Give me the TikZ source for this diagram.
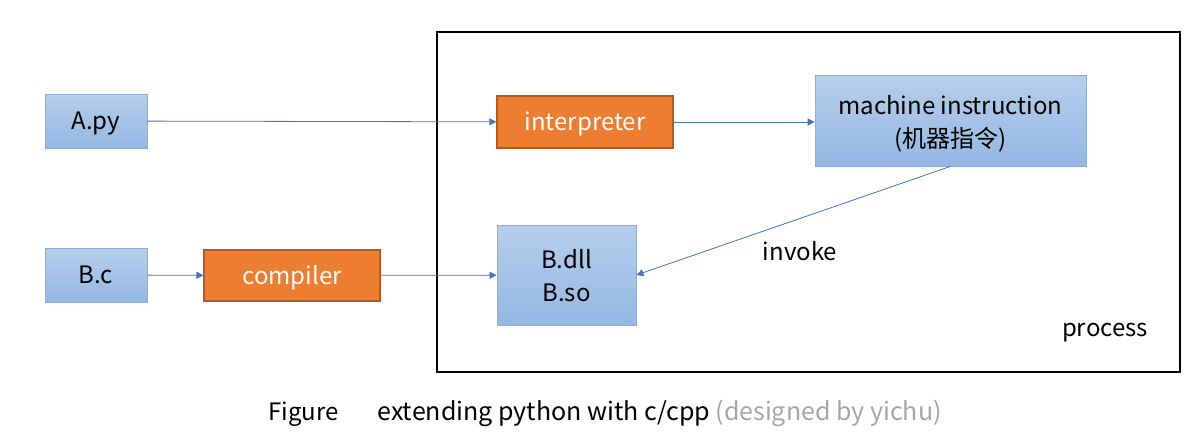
\documentclass[tikz,border=0pt]{standalone}
\usepackage{fontspec}
\setmainfont{Noto Sans CJK SC}
\usepackage{xcolor}
\usetikzlibrary{arrows.meta, positioning}

\definecolor{boxblue}{HTML}{A9C6E8}
\definecolor{boxblueb}{HTML}{93B8E2}
\definecolor{lineblue}{HTML}{4472C4}
\definecolor{boxorange}{HTML}{ED7D31}
\definecolor{orangeline}{HTML}{B85A1E}

\begin{document}
\begin{tikzpicture}[
    x=1pt, y=-1pt,
    every node/.style={font=\fontsize{24}{33}\selectfont},
    srcbox/.style={rectangle, draw=lineblue!60, top color=boxblue!85, bottom color=boxblueb, line width=0.8pt, align=center, inner sep=0pt, text height=22pt, text depth=5pt},
    twoline/.style={text height=58pt, text depth=5pt},
    toolbox/.style={rectangle, draw=orangeline, fill=boxorange, text=white, line width=1.2pt, inner sep=0pt, text height=22pt, text depth=5pt},
    arrow/.style={lineblue, line width=0.8pt, -{Triangle[length=7pt,width=7pt]}},
    note/.style={font=\fontsize{24}{33}\selectfont, text height=22pt, text depth=5pt}
]
\useasboundingbox (0,0) rectangle (1204,432);

% process frame
\node[draw, line width=1.5pt, minimum width=743pt, minimum height=340pt, inner sep=0pt] (process) at (808.5,202) {};
\node[note] (processlabel) at (1105,328) {process};

% sources
\node[srcbox, minimum width=102pt, minimum height=54pt] (apy) at (96,121) {A.py};
\node[srcbox, minimum width=102pt, minimum height=54pt] (bc) at (96,275) {B.c};

% tools
\node[toolbox, minimum width=176pt, minimum height=51pt] (compiler) at (292,275.5) {compiler};
\node[toolbox, minimum width=176pt, minimum height=52pt] (interp) at (585,122) {interpreter};

% results
\node[srcbox, twoline, minimum width=271pt, minimum height=91pt] (machine) at (950.5,120.5) {machine instruction\\(机器指令)};
\node[srcbox, twoline, minimum width=139pt, minimum height=100pt] (lib) at (566.5,275) {B.dll\\B.so};

% Arrows
\draw[arrow] (apy) -- (interp);
\draw[arrow] (interp) -- (machine.west |- interp);
\draw[arrow] (bc) -- (compiler);
\draw[arrow] (compiler) -- (lib);
\draw[arrow] (machine.south) -- (lib.east);
\node[note] (invoke) at (800,252) {invoke};

% caption
\node[anchor=base west, font=\fontsize{24}{28}\selectfont] (figword) at (265,420) {Figure};
\node[anchor=base west, font=\fontsize{25}{28}\selectfont] (caption) at (374,420) {extending python with c/cpp \textcolor{black!35}{(designed by yichu)}};
\end{tikzpicture}
\end{document}
